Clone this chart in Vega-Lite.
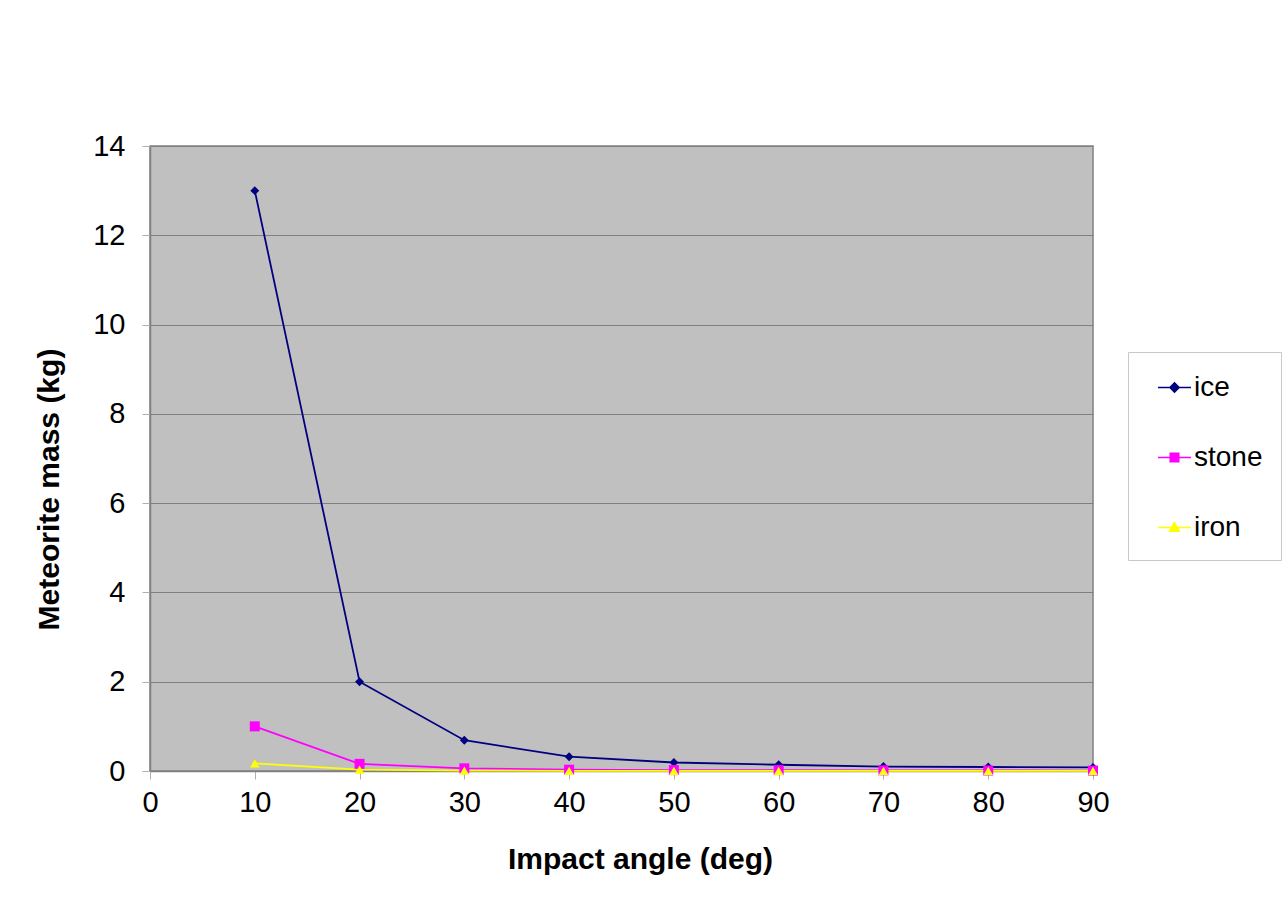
{
  "$schema": "https://vega.github.io/schema/vega-lite/v6.json",
  "width": 943,
  "height": 625,
  "autosize": {"type": "none"},
  "padding": {"left": 150, "top": 146, "right": 192, "bottom": 138},
  "background": "white",
  "config": {
    "font": "Liberation Sans",
    "view": {"fill": "#C0C0C0", "stroke": "#808080", "strokeWidth": 1.5}
  },
  "data": {
    "values": [
      {"angle": 10, "mass": 13, "material": "ice"},
      {"angle": 20, "mass": 2, "material": "ice"},
      {"angle": 30, "mass": 0.69, "material": "ice"},
      {"angle": 40, "mass": 0.32, "material": "ice"},
      {"angle": 50, "mass": 0.19, "material": "ice"},
      {"angle": 60, "mass": 0.14, "material": "ice"},
      {"angle": 70, "mass": 0.1, "material": "ice"},
      {"angle": 80, "mass": 0.09, "material": "ice"},
      {"angle": 90, "mass": 0.08, "material": "ice"},
      {"angle": 10, "mass": 1.0, "material": "stone"},
      {"angle": 20, "mass": 0.16, "material": "stone"},
      {"angle": 30, "mass": 0.06, "material": "stone"},
      {"angle": 40, "mass": 0.03, "material": "stone"},
      {"angle": 50, "mass": 0.02, "material": "stone"},
      {"angle": 60, "mass": 0.02, "material": "stone"},
      {"angle": 70, "mass": 0.015, "material": "stone"},
      {"angle": 80, "mass": 0.012, "material": "stone"},
      {"angle": 90, "mass": 0.01, "material": "stone"},
      {"angle": 10, "mass": 0.17, "material": "iron"},
      {"angle": 20, "mass": 0.03, "material": "iron"},
      {"angle": 30, "mass": 0.01, "material": "iron"},
      {"angle": 40, "mass": 0.005, "material": "iron"},
      {"angle": 50, "mass": 0.004, "material": "iron"},
      {"angle": 60, "mass": 0.003, "material": "iron"},
      {"angle": 70, "mass": 0.003, "material": "iron"},
      {"angle": 80, "mass": 0.002, "material": "iron"},
      {"angle": 90, "mass": 0.002, "material": "iron"}
    ]
  },
  "encoding": {
    "x": {
      "field": "angle",
      "type": "quantitative",
      "scale": {"domain": [0, 90], "nice": false},
      "axis": {
        "title": "Impact angle (deg)",
        "values": [0, 10, 20, 30, 40, 50, 60, 70, 80, 90],
        "grid": false,
        "labelFlush": false,
        "labelOverlap": false,
        "labelBound": false,
        "labelFont": "Liberation Sans",
        "labelFontSize": 29,
        "labelColor": "#000000",
        "labelPadding": 9,
        "tickColor": "#B0B0B0",
        "tickSize": 8,
        "domainColor": "#808080",
        "domainWidth": 1.5,
        "titleFont": "Liberation Sans",
        "titleFontSize": 30,
        "titleFontWeight": "bold",
        "titleColor": "#000000",
        "titlePadding": 27,
        "titleX": 490
      }
    },
    "y": {
      "field": "mass",
      "type": "quantitative",
      "scale": {"domain": [0, 14], "nice": false},
      "axis": {
        "title": "Meteorite mass (kg)",
        "values": [0, 2, 4, 6, 8, 10, 12, 14],
        "grid": true,
        "gridColor": "#808080",
        "gridWidth": 1.2,
        "labelFlush": false,
        "labelOverlap": false,
        "labelBound": false,
        "labelFont": "Liberation Sans",
        "labelFontSize": 29,
        "labelColor": "#000000",
        "labelPadding": 17,
        "tickColor": "#B0B0B0",
        "tickSize": 8,
        "domainColor": "#808080",
        "domainWidth": 1.5,
        "titleFont": "Liberation Sans",
        "titleFontSize": 30,
        "titleFontWeight": "bold",
        "titleColor": "#000000",
        "titlePadding": 28,
        "titleY": 343
      }
    }
  },
  "layer": [
    {
      "mark": {"type": "line", "strokeWidth": 1.8},
      "encoding": {
        "color": {
          "field": "material",
          "type": "nominal",
          "sort": ["ice", "stone", "iron"],
          "scale": {"domain": ["ice", "stone", "iron"], "range": ["#000080", "#FF00FF", "#FFFF00"]},
          "legend": {
            "title": null,
            "orient": "none",
            "legendX": 978,
            "legendY": 206,
            "direction": "vertical",
            "fillColor": "white",
            "strokeColor": "#C8C8C8",
            "padding": 18,
            "symbolOffset": 11,
            "symbolSize": 1089,
            "symbolStrokeWidth": 1.5,
            "symbolType": "M-1,0H1",
            "labelFontSize": 28,
            "labelFont": "Liberation Sans",
            "labelColor": "#000000",
            "labelOffset": 2,
            "rowPadding": 38,
            "labelLimit": 200,
            "encode": {
              "symbols": {
                "update": {
                  "shape": {"signal": "datum.value === 'ice' ? 'M-1,0H1M0,-0.28L0.28,0L0,0.28L-0.28,0Z' : datum.value === 'stone' ? 'M-1,0H1M-0.26,-0.26H0.26V0.26H-0.26Z' : 'M-1,0H1M0,-0.3L0.3,0.22H-0.3Z'"},
                  "fill": {"scale": "color", "field": "value"},
                  "stroke": {"scale": "color", "field": "value"},
                  "strokeWidth": {"value": 1.5}
                }
              }
            }
          }
        }
      }
    },
    {
      "transform": [{"filter": "datum.material === 'ice'"}],
      "mark": {"type": "point", "filled": true, "opacity": 1, "shape": "diamond", "color": "#000080", "size": 80}
    },
    {
      "transform": [{"filter": "datum.material === 'stone'"}],
      "mark": {"type": "point", "filled": true, "opacity": 1, "shape": "square", "color": "#FF00FF", "size": 100}
    },
    {
      "transform": [{"filter": "datum.material === 'iron'"}],
      "mark": {"type": "point", "filled": true, "opacity": 1, "shape": "triangle-up", "color": "#FFFF00", "size": 90}
    }
  ]
}
